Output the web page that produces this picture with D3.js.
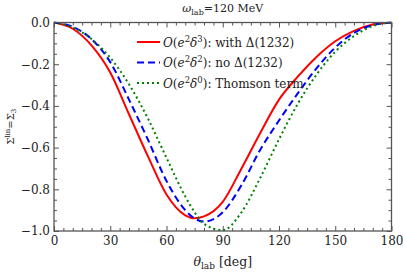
<!DOCTYPE html>
<html>
<head>
<meta charset="utf-8">
<script src="https://cdn.jsdelivr.net/npm/d3@7"></script>
<style>
  body { margin: 0; background: #fff; }
  text { font-family: "DejaVu Serif", "Liberation Serif", serif; }
</style>
</head>
<body>
<div id="chart"></div>
<script>
// angles in degrees (lab frame)
const angles = [0, 10, 20, 30, 40, 50, 60, 70, 75, 80, 90, 100, 110, 120, 130, 140, 150, 160, 170, 180];
// O(e^2 delta^3) with Delta(1232)
const withDelta = [0, -0.03, -0.11, -0.24, -0.44, -0.64, -0.825, -0.925, -0.939, -0.93, -0.86, -0.70, -0.53, -0.37, -0.26, -0.165, -0.09, -0.04, -0.01, 0];
// O(e^2 delta^2) no Delta
const noDelta = [0, -0.02, -0.08, -0.19, -0.37, -0.56, -0.76, -0.90, -0.94, -0.955, -0.91, -0.78, -0.61, -0.47, -0.34, -0.22, -0.12, -0.05, -0.013, 0];
// O(e^2 delta^0) Thomson term
const thomson = [0, -0.024, -0.079, -0.169, -0.296, -0.459, -0.649, -0.834, -0.91, -0.966, -0.996, -0.91, -0.745, -0.56, -0.39, -0.25, -0.14, -0.065, -0.017, 0];

const xTicks = [0, 30, 60, 90, 120, 150, 180];
const yTicks = [0, -0.2, -0.4, -0.6, -0.8, -1.0];

const W = 403, H = 274;
const margin = {top: 22.5, right: 11.5, bottom: 43, left: 54};

const svg = d3.select("#chart").append("svg")
    .attr("width", W)
    .attr("height", H);

const x = d3.scaleLinear().domain([0, 180]).range([margin.left, W - margin.right]);
const y = d3.scaleLinear().domain([-1, 0]).range([H - margin.bottom, margin.top]);

const frameColor = "#555";

const xMinor = d3.range(0, 181, 5).filter(d => d % 30 !== 0);
const yMinor = d3.range(0, 21).map(i => -i * 0.05).filter(d => Math.abs(Math.round(d * 100)) % 20 !== 0);

// ticks point inward on all four sides
function drawAxis(gen, pos, ticks, size, labels) {
  const g = svg.append("g").attr("transform", pos).call(gen.tickValues(ticks).tickSizeInner(size).tickSizeOuter(0));
  g.select(".domain").remove();
  g.selectAll("line").attr("stroke", frameColor).attr("stroke-width", 1);
  if (!labels) g.selectAll("text").remove();
  return g;
}

const fmtY = d => d === 0 ? "0.0" : "\u2212" + Math.abs(d).toFixed(1);

// bottom
let gb = drawAxis(d3.axisBottom(x).tickFormat(d3.format("d")), `translate(0,${y(-1)})`, xTicks, -5, true);
gb.selectAll("text").attr("y", 5).attr("font-size", 12).attr("fill", "#222");
drawAxis(d3.axisBottom(x), `translate(0,${y(-1)})`, xMinor, -3, false);
// top
drawAxis(d3.axisTop(x), `translate(0,${y(0)})`, xTicks, -5, false);
drawAxis(d3.axisTop(x), `translate(0,${y(0)})`, xMinor, -3, false);
// left
let gl = drawAxis(d3.axisLeft(y).tickFormat(fmtY), `translate(${x(0)},0)`, yTicks, -5, true);
gl.selectAll("text").attr("x", -4).attr("font-size", 12).attr("fill", "#222");
drawAxis(d3.axisLeft(y), `translate(${x(0)},0)`, yMinor, -3, false);
// right
drawAxis(d3.axisRight(y), `translate(${x(180)},0)`, yTicks, -5, false);
drawAxis(d3.axisRight(y), `translate(${x(180)},0)`, yMinor, -3, false);

// curves
const series = [
  {name: "withDelta", vals: withDelta, color: "#ff0000", dash: null},
  {name: "noDelta", vals: noDelta, color: "#0000ff", dash: "7,4"},
  {name: "thomson", vals: thomson, color: "#008000", dash: "2,3"}
];

const line = d3.line()
    .x(d => x(d[0]))
    .y(d => y(d[1]))
    .curve(d3.curveMonotoneX);

svg.append("defs").append("clipPath").attr("id", "clip")
  .append("rect").attr("x", x(0)).attr("y", y(0) - 1).attr("width", x(180) - x(0)).attr("height", y(-1) - y(0) + 2);

series.forEach(s => {
  svg.append("path")
      .datum(angles.map((a, i) => [a, s.vals[i]]))
      .attr("clip-path", "url(#clip)")
      .attr("fill", "none")
      .attr("stroke", s.color)
      .attr("stroke-width", 2)
      .attr("stroke-dasharray", s.dash)
      .attr("d", line);
});

// frame
svg.append("rect")
    .attr("x", x(0)).attr("y", y(0))
    .attr("width", x(180) - x(0)).attr("height", y(-1) - y(0))
    .attr("fill", "none").attr("stroke", frameColor).attr("stroke-width", 1.3);

// legend
const legend = [
  {color: "#ff0000", dash: null, order: "3", text: ": with \u0394(1232)"},
  {color: "#0000ff", dash: "7,4", order: "2", text: ": no \u0394(1232)"},
  {color: "#008000", dash: "2,3", order: "0", text: ": Thomson term"}
];
legend.forEach((l, i) => {
  const ly = 42 + i * 20.5;
  svg.append("line")
      .attr("x1", 137).attr("x2", 160).attr("y1", ly).attr("y2", ly)
      .attr("stroke", l.color).attr("stroke-width", 2)
      .attr("stroke-dasharray", l.dash);
  const t = svg.append("text").attr("x", 163).attr("y", ly + 4.5)
      .attr("font-size", 12).attr("fill", "#222");
  t.append("tspan").attr("font-style", "italic").text("O");
  t.append("tspan").text("(");
  t.append("tspan").attr("font-style", "italic").text("e");
  t.append("tspan").attr("font-size", 8.5).attr("dy", -5).text("2");
  t.append("tspan").attr("font-style", "italic").attr("dy", 5).text("\u03b4");
  t.append("tspan").attr("font-size", 8.5).attr("dy", -5).text(l.order);
  t.append("tspan").attr("dy", 5).text(")" + l.text);
});

// title
const title = svg.append("text").attr("x", (x(0) + x(180)) / 2).attr("y", 12)
    .attr("text-anchor", "middle").attr("font-size", 11).attr("fill", "#222");
title.append("tspan").attr("font-style", "italic").text("\u03c9");
title.append("tspan").attr("font-size", 8).attr("dy", 3).text("lab");
title.append("tspan").attr("dy", -3).text("=120 MeV");

// x label
const xl = svg.append("text").attr("x", (x(0) + x(180)) / 2).attr("y", 266)
    .attr("text-anchor", "middle").attr("font-size", 12.5).attr("fill", "#222");
xl.append("tspan").attr("font-style", "italic").text("\u03b8");
xl.append("tspan").attr("font-size", 9).attr("dy", 3).text("lab");
xl.append("tspan").attr("dy", -3).text(" [deg]");

// y label
const yl = svg.append("text")
    .attr("transform", `translate(14,${(y(0) + y(-1)) / 2}) rotate(-90)`)
    .attr("text-anchor", "middle").attr("font-size", 10).attr("fill", "#222");
yl.append("tspan").text("\u03a3");
yl.append("tspan").attr("font-size", 7).attr("dy", -4).text("lin");
yl.append("tspan").attr("dy", 4).text("=\u03a3");
yl.append("tspan").attr("font-size", 7).attr("dy", 2).text("3");
</script>
</body>
</html>
